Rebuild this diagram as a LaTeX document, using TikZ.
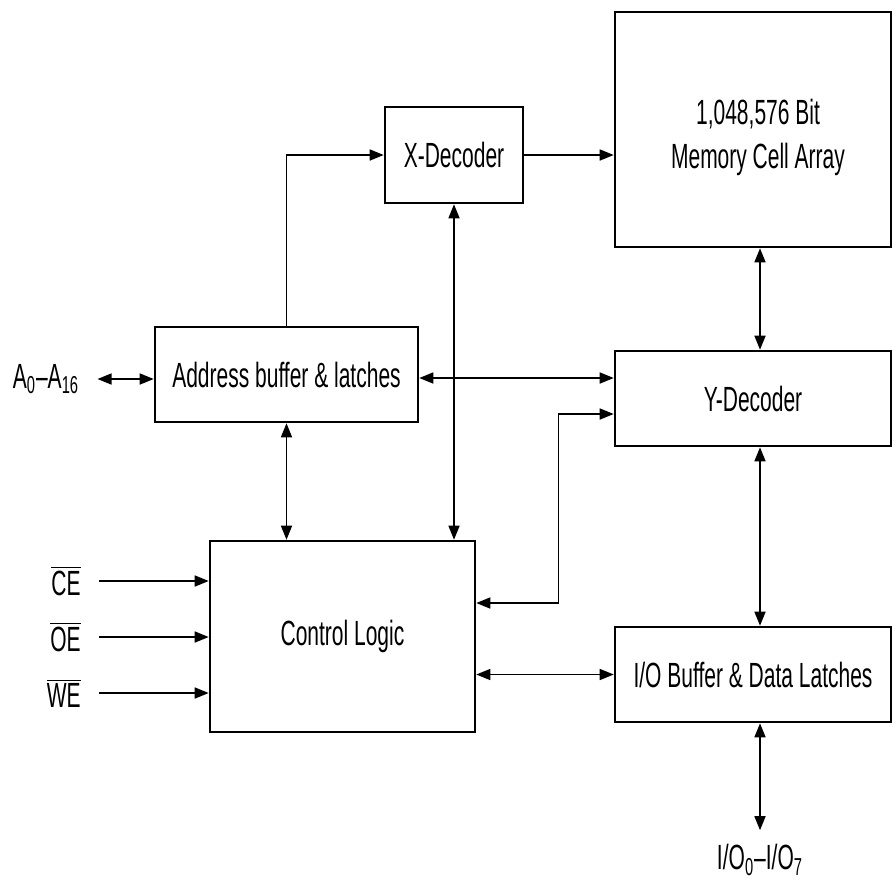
\documentclass[tikz,border=0pt]{standalone}
\usepackage{fontspec}
\setmainfont[FakeStretch=0.6]{Liberation Sans}
\usepackage{tikz}
\usetikzlibrary{positioning,arrows.meta,calc}
\newcommand{\negsig}[1]{$\overline{\mbox{#1}}$}
\tikzset{
  blk/.style ={draw=black,line width=1.3pt,fill=white,align=center,inner sep=0pt,font=\fontsize{17.5}{22}\selectfont},
  ar/.style  ={-{Triangle[length=7pt,width=5.5pt]},line width=0.8pt},
  dar/.style ={{Triangle[length=7pt,width=5.5pt]}-{Triangle[length=7pt,width=5.5pt]},line width=0.8pt},
  lbl/.style ={font=\fontsize{17.5}{22}\selectfont,inner sep=0pt},
}
\begin{document}
\begin{tikzpicture}[x=0.5pt,y=-0.5pt]
\useasboundingbox (0,0) rectangle (892,885);
\node[blk,minimum width=69pt,minimum height=48pt] (xdec) at (454,155) {X-Decoder};
\node[blk,minimum width=138pt,minimum height=117.5pt] (mem) at (753,129.5) {};
\node[lbl,align=center] (memtxt) at ([xshift=2.5pt,yshift=-4pt]mem.center) {1,048,576 Bit\\Memory Cell Array};
\node[blk,minimum width=131.5pt,minimum height=47.5pt] (addr) at (286.5,374.5) {Address buffer \& latches};
\node[blk,minimum width=138pt,minimum height=47.5pt] (ydec) at (753,398.5) {Y-Decoder};
\node[blk,minimum width=132.5pt,minimum height=95.5pt] (ctrl) at (342.5,636.5) {Control Logic};
\node[blk,minimum width=138pt,minimum height=47.5pt] (io) at (753,674.5) {I/O Buffer \& Data Latches};

% pins
\node[lbl] (alab) at (46,379) {A\textsubscript{0}--A\textsubscript{16}};
\node[lbl,anchor=east] (ce) at (81,581) {\negsig{CE}};
\node[lbl,anchor=east] (oe) at (81,637) {\negsig{OE}};
\node[lbl,anchor=east] (we) at (81,693) {\negsig{WE}};
\node[lbl] (iolab) at (760,860) {I/O\textsubscript{0}--I/O\textsubscript{7}};

\draw[dar] ([xshift=9pt]alab.east) -- (alab.east -| addr.west);
\foreach \s in {ce,oe,we}
  \draw[ar] ([xshift=9pt]\s.east) -- (\s.east -| ctrl.west);

\draw[ar] (addr.north) |- (xdec.west);
\draw[ar] (xdec.east) -- (xdec.east -| mem.west);
\draw[dar] (xdec.south) -- (xdec.south |- ctrl.north);
\draw[dar] ([xshift=3.5pt]mem.south) -- ([xshift=3.5pt]ydec.north);
\draw[dar] ([yshift=-1.75pt]addr.east) -- ([yshift=-1.75pt]addr.east -| ydec.west);
\draw[dar] (addr.south) -- (addr.south |- ctrl.north);
\draw[dar] ([yshift=16.75pt]ctrl.east) -- ++(82,0) |- ([yshift=-7.75pt]ydec.west);
\draw[dar] ([xshift=3.5pt]ydec.south) -- ([xshift=3.5pt]io.north);
\draw[dar] (io.west) -- (io.west -| ctrl.east);
\draw[dar,shorten >=7pt] ([xshift=3.5pt]io.south) -- (iolab.north);
\end{tikzpicture}
\end{document}
